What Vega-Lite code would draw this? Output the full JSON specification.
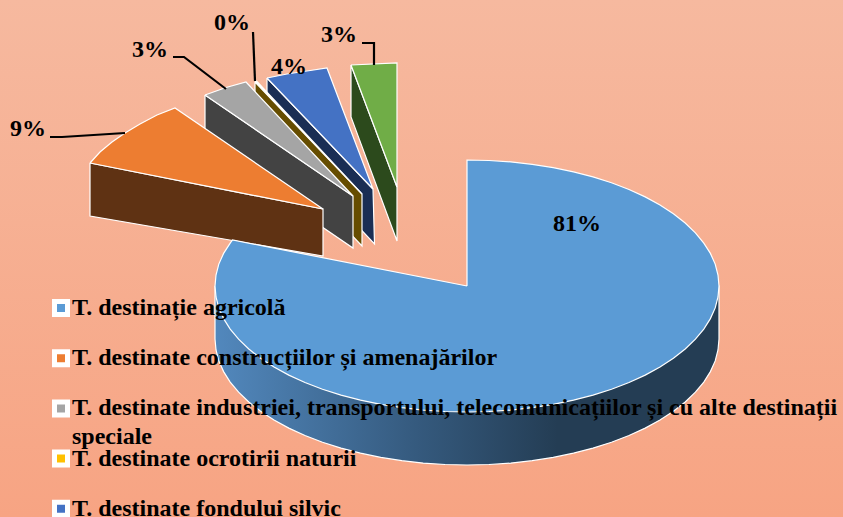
{"$schema":"https://vega.github.io/schema/vega-lite/v6.json","width":843,"height":517,"padding":0,"autosize":{"type":"none"},"background":"#f7ae90","config":{"view":{"stroke":null}},
"datasets":{
"sides":[
{"series":"F","i":0,"x":351,"y":65},{"series":"F","i":1,"x":397,"y":187},{"series":"F","i":2,"x":397,"y":241},{"series":"F","i":3,"x":351,"y":117},{"series":"F","i":4,"x":351,"y":65},
{"series":"E","i":0,"x":267,"y":78},{"series":"E","i":1,"x":373,"y":189},{"series":"E","i":2,"x":374.5,"y":244},{"series":"E","i":3,"x":267,"y":130},{"series":"E","i":4,"x":267,"y":78},
{"series":"D","i":0,"x":255,"y":82},{"series":"D","i":1,"x":362,"y":194},{"series":"D","i":2,"x":362,"y":246},{"series":"D","i":3,"x":255,"y":134},{"series":"D","i":4,"x":255,"y":82},
{"series":"C","i":0,"x":205,"y":95},{"series":"C","i":1,"x":353,"y":196},{"series":"C","i":2,"x":353,"y":248},{"series":"C","i":3,"x":205,"y":147},{"series":"C","i":4,"x":205,"y":95},
{"series":"B","i":0,"x":90,"y":163},{"series":"B","i":1,"x":323,"y":209},{"series":"B","i":2,"x":323,"y":256},{"series":"B","i":3,"x":90,"y":216},{"series":"B","i":4,"x":90,"y":163}
],
"wall":[
{"i":0,"x":215,"y":286},{"i":1,"x":215,"y":339},{"i":2,"x":216,"y":350},{"i":3,"x":218.8,"y":360.9},{"i":4,"x":223.6,"y":371.6},{"i":5,"x":230.2,"y":382.1},{"i":6,"x":238.6,"y":392.2},{"i":7,"x":248.8,"y":402},{"i":8,"x":260.6,"y":411.3},{"i":9,"x":274,"y":420},{"i":10,"x":288.8,"y":428.1},{"i":11,"x":305,"y":435.5},{"i":12,"x":322.5,"y":442.2},{"i":13,"x":341,"y":448.1},{"i":14,"x":360.5,"y":453.2},{"i":15,"x":380.8,"y":457.4},{"i":16,"x":401.8,"y":460.7},{"i":17,"x":423.2,"y":463.1},{"i":18,"x":445,"y":464.5},{"i":19,"x":467,"y":465},{"i":20,"x":489,"y":464.5},{"i":21,"x":510.8,"y":463.1},{"i":22,"x":532.2,"y":460.7},{"i":23,"x":553.2,"y":457.4},{"i":24,"x":573.5,"y":453.2},{"i":25,"x":593,"y":448.1},{"i":26,"x":611.5,"y":442.2},{"i":27,"x":629,"y":435.5},{"i":28,"x":645.2,"y":428.1},{"i":29,"x":660,"y":420},{"i":30,"x":673.4,"y":411.3},{"i":31,"x":685.2,"y":402},{"i":32,"x":695.4,"y":392.2},{"i":33,"x":703.8,"y":382.1},{"i":34,"x":710.4,"y":371.6},{"i":35,"x":715.2,"y":360.9},{"i":36,"x":718,"y":350},{"i":37,"x":719,"y":339},{"i":38,"x":719,"y":286},{"i":39,"x":215,"y":286}
],
"tops":[
{"series":"T. destinate fondului apelor","i":0,"x":351,"y":65},{"series":"T. destinate fondului apelor","i":1,"x":397,"y":63},{"series":"T. destinate fondului apelor","i":2,"x":397,"y":187},{"series":"T. destinate fondului apelor","i":3,"x":351,"y":65},
{"series":"T. destinate fondului silvic","i":0,"x":267,"y":78},{"series":"T. destinate fondului silvic","i":1,"x":287,"y":74},{"series":"T. destinate fondului silvic","i":2,"x":307,"y":71},{"series":"T. destinate fondului silvic","i":3,"x":327,"y":68},{"series":"T. destinate fondului silvic","i":4,"x":373,"y":189},{"series":"T. destinate fondului silvic","i":5,"x":267,"y":78},
{"series":"T. destinate ocrotirii naturii","i":0,"x":255,"y":81},{"series":"T. destinate ocrotirii naturii","i":1,"x":256.5,"y":80.8},{"series":"T. destinate ocrotirii naturii","i":2,"x":362,"y":194},{"series":"T. destinate ocrotirii naturii","i":3,"x":255,"y":81},
{"series":"T. destinate industriei, transportului, telecomunicațiilor și cu alte destinații speciale","i":0,"x":205,"y":95},{"series":"T. destinate industriei, transportului, telecomunicațiilor și cu alte destinații speciale","i":1,"x":226,"y":87.5},{"series":"T. destinate industriei, transportului, telecomunicațiilor și cu alte destinații speciale","i":2,"x":246,"y":82},{"series":"T. destinate industriei, transportului, telecomunicațiilor și cu alte destinații speciale","i":3,"x":353,"y":196},{"series":"T. destinate industriei, transportului, telecomunicațiilor și cu alte destinații speciale","i":4,"x":205,"y":95},
{"series":"T. destinate construcțiilor și amenajărilor","i":0,"x":90,"y":163},{"series":"T. destinate construcțiilor și amenajărilor","i":1,"x":100,"y":152},{"series":"T. destinate construcțiilor și amenajărilor","i":2,"x":112,"y":142},{"series":"T. destinate construcțiilor și amenajărilor","i":3,"x":125,"y":133},{"series":"T. destinate construcțiilor și amenajărilor","i":4,"x":140,"y":124},{"series":"T. destinate construcțiilor și amenajărilor","i":5,"x":157,"y":115},{"series":"T. destinate construcțiilor și amenajărilor","i":6,"x":175,"y":108},{"series":"T. destinate construcțiilor și amenajărilor","i":7,"x":323,"y":209},{"series":"T. destinate construcțiilor și amenajărilor","i":8,"x":90,"y":163},
{"series":"T. destinație agricolă","i":0,"x":467,"y":286},{"series":"T. destinație agricolă","i":1,"x":467,"y":160},{"series":"T. destinație agricolă","i":2,"x":489,"y":160.5},{"series":"T. destinație agricolă","i":3,"x":510.8,"y":161.9},{"series":"T. destinație agricolă","i":4,"x":532.2,"y":164.3},{"series":"T. destinație agricolă","i":5,"x":553.2,"y":167.6},{"series":"T. destinație agricolă","i":6,"x":573.5,"y":171.8},{"series":"T. destinație agricolă","i":7,"x":593,"y":176.9},{"series":"T. destinație agricolă","i":8,"x":611.5,"y":182.8},{"series":"T. destinație agricolă","i":9,"x":629,"y":189.5},{"series":"T. destinație agricolă","i":10,"x":645.2,"y":196.9},{"series":"T. destinație agricolă","i":11,"x":660,"y":205},{"series":"T. destinație agricolă","i":12,"x":673.4,"y":213.7},{"series":"T. destinație agricolă","i":13,"x":685.2,"y":223},{"series":"T. destinație agricolă","i":14,"x":695.4,"y":232.8},{"series":"T. destinație agricolă","i":15,"x":703.8,"y":243.1},{"series":"T. destinație agricolă","i":16,"x":710.4,"y":253.4},{"series":"T. destinație agricolă","i":17,"x":715.2,"y":264.1},{"series":"T. destinație agricolă","i":18,"x":718,"y":275},{"series":"T. destinație agricolă","i":19,"x":719,"y":286},{"series":"T. destinație agricolă","i":20,"x":718,"y":297},{"series":"T. destinație agricolă","i":21,"x":715.2,"y":307.9},{"series":"T. destinație agricolă","i":22,"x":710.4,"y":318.6},{"series":"T. destinație agricolă","i":23,"x":703.8,"y":329.1},{"series":"T. destinație agricolă","i":24,"x":695.4,"y":339.2},{"series":"T. destinație agricolă","i":25,"x":685.2,"y":349},{"series":"T. destinație agricolă","i":26,"x":673.4,"y":358.3},{"series":"T. destinație agricolă","i":27,"x":660,"y":367},{"series":"T. destinație agricolă","i":28,"x":645.2,"y":375.1},{"series":"T. destinație agricolă","i":29,"x":629,"y":382.5},{"series":"T. destinație agricolă","i":30,"x":611.5,"y":389.2},{"series":"T. destinație agricolă","i":31,"x":593,"y":395.1},{"series":"T. destinație agricolă","i":32,"x":573.5,"y":400.2},{"series":"T. destinație agricolă","i":33,"x":553.2,"y":404.4},{"series":"T. destinație agricolă","i":34,"x":532.2,"y":407.7},{"series":"T. destinație agricolă","i":35,"x":510.8,"y":410.1},{"series":"T. destinație agricolă","i":36,"x":489,"y":411.5},{"series":"T. destinație agricolă","i":37,"x":467,"y":412},{"series":"T. destinație agricolă","i":38,"x":445,"y":411.5},{"series":"T. destinație agricolă","i":39,"x":423.2,"y":410.1},{"series":"T. destinație agricolă","i":40,"x":401.8,"y":407.7},{"series":"T. destinație agricolă","i":41,"x":380.8,"y":404.4},{"series":"T. destinație agricolă","i":42,"x":360.5,"y":400.2},{"series":"T. destinație agricolă","i":43,"x":341,"y":395.1},{"series":"T. destinație agricolă","i":44,"x":322.5,"y":389.2},{"series":"T. destinație agricolă","i":45,"x":305,"y":382.5},{"series":"T. destinație agricolă","i":46,"x":288.8,"y":375.1},{"series":"T. destinație agricolă","i":47,"x":274,"y":367},{"series":"T. destinație agricolă","i":48,"x":260.6,"y":358.3},{"series":"T. destinație agricolă","i":49,"x":248.8,"y":349},{"series":"T. destinație agricolă","i":50,"x":238.6,"y":339.2},{"series":"T. destinație agricolă","i":51,"x":230.2,"y":329.1},{"series":"T. destinație agricolă","i":52,"x":223.6,"y":318.6},{"series":"T. destinație agricolă","i":53,"x":218.8,"y":307.9},{"series":"T. destinație agricolă","i":54,"x":216,"y":297},{"series":"T. destinație agricolă","i":55,"x":215,"y":286},{"series":"T. destinație agricolă","i":56,"x":216,"y":275},{"series":"T. destinație agricolă","i":57,"x":218.8,"y":264.1},{"series":"T. destinație agricolă","i":58,"x":223.6,"y":253.4},{"series":"T. destinație agricolă","i":59,"x":230.2,"y":243.1},{"series":"T. destinație agricolă","i":60,"x":232.5,"y":240},{"series":"T. destinație agricolă","i":61,"x":467,"y":286}
],
"leaders":[
{"k":"a","i":0,"x":50,"y":137},{"k":"a","i":1,"x":62,"y":137},{"k":"a","i":2,"x":125,"y":133},
{"k":"b","i":0,"x":173,"y":57},{"k":"b","i":1,"x":184,"y":57},{"k":"b","i":2,"x":226,"y":89},
{"k":"c","i":0,"x":253,"y":32},{"k":"c","i":1,"x":255,"y":81},
{"k":"d","i":0,"x":362,"y":43},{"k":"d","i":1,"x":374,"y":43},{"k":"d","i":2,"x":374,"y":65}
],
"labels":[
{"t":"81%","x":577,"y":224},{"t":"9%","x":28,"y":129},{"t":"3%","x":150,"y":50},{"t":"0%","x":232,"y":23},{"t":"4%","x":289,"y":67},{"t":"3%","x":339,"y":35}
]},
"encoding":{"x":{"field":"x","type":"quantitative","axis":null,"scale":{"domain":[0,843],"nice":false,"zero":false}},"y":{"field":"y","type":"quantitative","axis":null,"scale":{"domain":[517,0],"nice":false,"zero":false}}},
"layer":[
{"data":{"values":[{"x":0,"y":0,"x2":843,"y2":517}]},"mark":{"type":"rect","fill":{"gradient":"linear","x1":0,"y1":0,"x2":0,"y2":1,"stops":[{"offset":0,"color":"#f6b99f"},{"offset":1,"color":"#f7a483"}]}},"encoding":{"x2":{"field":"x2"},"y2":{"field":"y2"}}},
{"data":{"name":"sides"},"mark":{"type":"line","filled":true,"stroke":"#fff","strokeWidth":1.2,"strokeJoin":"miter"},"encoding":{"order":{"field":"i"},"fill":{"field":"series","type":"nominal","legend":null,"scale":{"domain":["B","C","D","E","F"],"range":["#5f3213","#434343","#664d00","#1a2e54","#2c4a1c"]}}}},
{"data":{"name":"wall"},"mark":{"type":"line","filled":true,"stroke":"#fff","strokeWidth":1.2,"fill":{"gradient":"linear","x1":0,"y1":0,"x2":1,"y2":0,"stops":[{"offset":0,"color":"#5288bd"},{"offset":0.4,"color":"#355a7e"},{"offset":0.68,"color":"#243d54"},{"offset":1,"color":"#243d54"}]}},"encoding":{"order":{"field":"i"}}},
{"data":{"name":"tops"},"mark":{"type":"line","filled":true,"stroke":"#fff","strokeWidth":1.2},"encoding":{"order":{"field":"i"},"color":{"field":"series","type":"nominal","scale":{"domain":["T. destinație agricolă","T. destinate construcțiilor și amenajărilor","T. destinate industriei, transportului, telecomunicațiilor și cu alte destinații speciale","T. destinate ocrotirii naturii","T. destinate fondului silvic","T. destinate fondului apelor"],"range":["#5b9bd5","#ed7d31","#a5a5a5","#ffc000","#4472c4","#70ad47"]},"legend":{"orient":"none","legendX":49,"legendY":296,"title":null,"zindex":1,"values":["T. destinație agricolă","T. destinate construcțiilor și amenajărilor","T. destinate industriei, transportului, telecomunicațiilor și cu alte destinații speciale","T. destinate ocrotirii naturii","T. destinate fondului silvic"],"labelExpr":"replace(datum.label,' speciale','')","symbolType":"square","symbolSize":169,"symbolStrokeColor":"#fff","symbolStrokeWidth":5,"rowPadding":16.2,"labelFont":"Liberation Serif","labelFontWeight":"bold","labelFontSize":24,"labelColor":"#000","labelLimit":900,"labelOffset":-1}}}},
{"data":{"name":"leaders"},"mark":{"type":"line","stroke":"#000","strokeWidth":2.2,"strokeJoin":"miter"},"encoding":{"order":{"field":"i"},"detail":{"field":"k"}}},
{"data":{"name":"labels"},"mark":{"type":"text","font":"Liberation Serif","fontWeight":"bold","fontSize":24,"color":"#000","align":"center","baseline":"middle"},"encoding":{"text":{"field":"t"}}},
{"data":{"values":[{"t":"speciale","x":72,"y":437}]},"mark":{"type":"text","font":"Liberation Serif","fontWeight":"bold","fontSize":24,"color":"#000","align":"left","baseline":"middle"},"encoding":{"text":{"field":"t"}}}
]}
